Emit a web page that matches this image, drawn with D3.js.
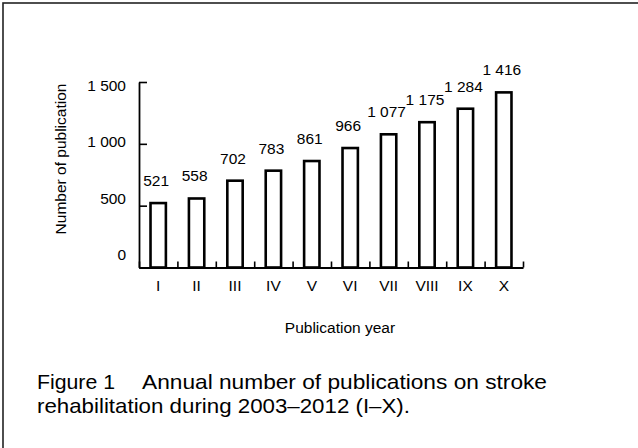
<!DOCTYPE html>
<html>
<head>
<meta charset="utf-8">
<script src="https://cdn.jsdelivr.net/npm/d3@7"></script>
<style>
  body { margin: 0; background: white; }
  text { font-family: "Liberation Sans", Arial, sans-serif; fill: #000; }
</style>
</head>
<body>
<div id="chart"></div>
<script>
// data
const years = ['I', 'II', 'III', 'IV', 'V', 'VI', 'VII', 'VIII', 'IX', 'X'];
const counts = [521, 558, 702, 783, 861, 966, 1077, 1175, 1284, 1416];
const yTicks = [0, 500, 1000, 1500];

const captionLine1a = 'Figure 1';
const captionLine1b = 'Annual number of publications on stroke';
const captionLine2 = 'rehabilitation during 2003\u20132012 (I\u2013X).';

// number format with a space as thousands separator ("1 416")
const fmt = d3.formatLocale({ decimal: '.', thousands: ' ', grouping: [3], currency: ['', ''] }).format(',');

let width = 638,
  height = 448;

let svg = d3.select('#chart')
  .append('svg')
    .attr('width', width)
    .attr('height', height)
    .style('background', 'white');

// frame (only top and left edges are inside the picture)
svg.append('rect')
  .attr('x', 3)
  .attr('y', 3)
  .attr('width', 700)
  .attr('height', 500)
  .attr('fill', 'none')
  .attr('stroke', '#222')
  .attr('stroke-width', 1.6);

// scales
let x0 = 139, x1 = 523;
let yScale = d3.scaleLinear()
  .domain([0, 1500])
  .range([267.5, 82]);

// tick labels sit a bit off their ticks in the original
let labelScale = d3.scaleLinear()
  .domain([0, 1500])
  .range([254, 84.5]);

let xScale = d3.scaleBand()
  .domain(years)
  .range([x0, x1])
  .padding(0);

let slotScale = d3.scaleLinear()
  .domain([0, years.length])
  .range([x0, x1]);

let barW = xScale.bandwidth() * 0.4;

// y axis
let yAxis = d3.axisLeft(yScale)
  .tickValues(yTicks)
  .tickSizeInner(-8)
  .tickSizeOuter(0)
  .tickPadding(13)
  .tickFormat(fmt);

let yG = svg.append('g')
  .attr('transform', 'translate(' + x0 + ',0)')
  .call(yAxis);
yG.select('.domain').attr('stroke', '#000').attr('stroke-width', 1.8);
yG.selectAll('.tick line').attr('stroke', '#000').attr('stroke-width', 1.6);
yG.selectAll('.tick text')
  .attr('dy', null)
  .attr('y', d => labelScale(d) - yScale(d) + 5.5)
  .style('font-size', '15.5px')
  .style('font-family', '"Liberation Sans", Arial, sans-serif');

// bars
svg.append('g')
  .selectAll('rect')
  .data(counts)
  .enter()
  .append('rect')
    .attr('x', (d, i) => xScale(years[i]) + (xScale.bandwidth() - barW) / 2)
    .attr('y', d => yScale(d))
    .attr('width', barW)
    .attr('height', d => yScale(0) - yScale(d))
    .attr('fill', 'white')
    .attr('stroke', '#000')
    .attr('stroke-width', 2.6);

// x axis: labels under bars
let xAxis = d3.axisBottom(xScale)
  .tickSize(0)
  .tickPadding(12);

let xG = svg.append('g')
  .attr('transform', 'translate(0,' + yScale(0) + ')')
  .call(xAxis);
xG.select('.domain').attr('stroke', '#000').attr('stroke-width', 2);
xG.selectAll('.tick text')
  .style('font-size', '15.5px')
  .style('font-family', '"Liberation Sans", Arial, sans-serif');

// x axis: small ticks between bars, pointing up
let slotAxis = d3.axisBottom(slotScale)
  .ticks(years.length)
  .tickSizeInner(-6)
  .tickSizeOuter(0)
  .tickFormat('');

let sG = svg.append('g')
  .attr('transform', 'translate(0,' + yScale(0) + ')')
  .call(slotAxis);
sG.select('.domain').remove();
sG.selectAll('.tick line').attr('stroke', '#000').attr('stroke-width', 1.6);

// value labels
svg.append('g')
  .selectAll('text')
  .data(counts)
  .enter()
  .append('text')
    .attr('x', (d, i) => xScale(years[i]) + xScale.bandwidth() / 2 - 2)
    .attr('y', d => yScale(d) - 17)
    .attr('text-anchor', 'middle')
    .style('font-size', '15.5px')
    .text(d => fmt(d));

// axis titles
svg.append('text')
  .attr('transform', 'translate(66,159) rotate(-90)')
  .attr('text-anchor', 'middle')
  .style('font-size', '15.5px')
  .text('Number of publication');

svg.append('text')
  .attr('x', 340)
  .attr('y', 333)
  .attr('text-anchor', 'middle')
  .style('font-size', '15.5px')
  .text('Publication year');

// caption
let cap = svg.append('g').style('font-size', '21px');
cap.append('text')
  .attr('x', 37)
  .attr('y', 389)
  .attr('textLength', 78)
  .attr('lengthAdjust', 'spacingAndGlyphs')
  .text(captionLine1a);
cap.append('text')
  .attr('x', 142)
  .attr('y', 389)
  .attr('textLength', 405)
  .attr('lengthAdjust', 'spacingAndGlyphs')
  .text(captionLine1b);
cap.append('text')
  .attr('x', 37)
  .attr('y', 413)
  .attr('textLength', 373)
  .attr('lengthAdjust', 'spacingAndGlyphs')
  .text(captionLine2);
</script>
</body>
</html>
